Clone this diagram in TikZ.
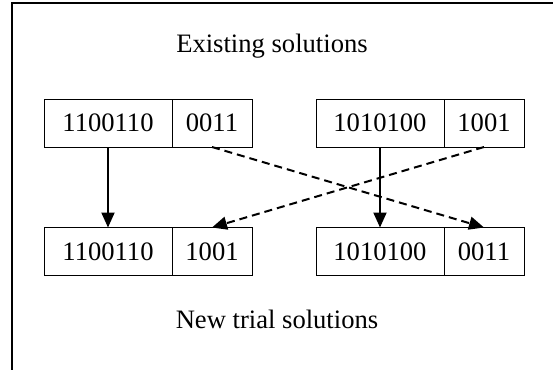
\documentclass[tikz,border=0pt]{standalone}
\usepackage{fontspec}
\setmainfont{Liberation Serif}
\usetikzlibrary{arrows.meta, positioning}
\tikzset{
  every picture/.style={line width=0.5pt},
  cell/.style={draw, minimum height=24pt, inner sep=0pt, outer sep=0pt, font=\fontsize{13.3}{15}\selectfont},
  gene/.style={cell, minimum width=64pt},
  tail/.style={cell, minimum width=40pt},
  move/.style={-{Triangle[length=7.5pt, width=6.5pt]}, line width=1pt},
  swap/.style={move, dash pattern=on 4pt off 2.5pt},
  caption/.style={font=\fontsize{13.3}{15}\selectfont},
}

\begin{document}
\begin{tikzpicture}[x=0.5pt, y=-0.5pt]
  \useasboundingbox (0,0) rectangle (553,370);
  % ---- frame
  \draw[line width=0.9pt] (12,370) -- (12,3) -- (553,3);
  % ---- existing solutions
  \node[caption] (old) at (272,46) {Existing solutions};
  \node[gene] (p1) at (108,123) {1100110};
  \node[tail, right=0pt of p1] (p1t) {0011};
  \node[gene] (p2) at (380,123) {1010100};
  \node[tail, right=0pt of p2] (p2t) {1001};
  % ---- new trial solutions
  \node[gene] (c1) at (108,251.5) {1100110};
  \node[tail, right=0pt of c1] (c1t) {1001};
  \node[gene] (c2) at (380,251.5) {1010100};
  \node[tail, right=0pt of c2] (c2t) {0011};
  \node[caption] (new) at (277,319) {New trial solutions};
  % ---- crossover
  \foreach \i in {1,2} \draw[move] (p\i.south) -- (c\i.north);
  \draw[swap] (p1t.south) -- (c2t.north);
  \draw[swap] (p2t.south) -- (c1t.north);
\end{tikzpicture}
\end{document}
